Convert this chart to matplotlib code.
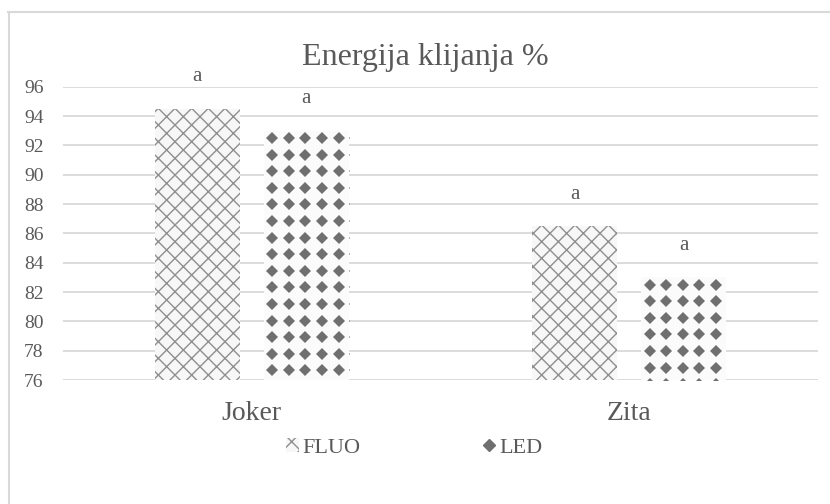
import matplotlib
matplotlib.use('Agg')
import matplotlib.pyplot as plt
import numpy as np
from matplotlib.patches import Patch
from matplotlib.lines import Line2D

# data
categories = ['Joker', 'Zita']
series_names = ['FLUO', 'LED']
fluo = [94.5, 86.5]
led = [93.0, 83.0]
labels_fluo = ['a', 'a']
labels_led = ['a', 'a']
y_ticks = [76, 78, 80, 82, 84, 86, 88, 90, 92, 94, 96]

TXT = '#595959'
GRID = '#d9d9d9'
HATCH = '#8f8f8f'
plt.rcParams['font.family'] = ['Liberation Serif', 'DejaVu Serif']
plt.rcParams['hatch.linewidth'] = 1.0

fig = plt.figure(figsize=(8.3, 5.04), dpi=100)
W, H = 830, 504
ax = fig.add_axes([63 / W, 1 - 380 / H, (818 - 63) / W, (380 - 86.7) / H])

x = np.arange(len(categories))
bw = 0.225
off = 0.1445

b1 = ax.bar(x - off, [v - y_ticks[0] for v in fluo], bw, bottom=y_ticks[0],
            color='#f7f7f7', hatch='xx', edgecolor=HATCH, linewidth=0, zorder=2)
b2 = ax.bar(x + off, [v - y_ticks[0] for v in led], bw, bottom=y_ticks[0],
            color='#fbfbfb', edgecolor='none', linewidth=0, zorder=2)

ax.set_ylim(y_ticks[0], y_ticks[-1])
ax.set_xlim(-0.5, len(categories) - 0.5)
ax.set_yticks(y_ticks)
ax.set_xticks(x)
ax.set_xticklabels(categories, fontsize=20, color=TXT)
ax.tick_params(axis='y', length=0, pad=14, labelsize=14, labelcolor=TXT)
ax.tick_params(axis='x', length=0, pad=15)
ax.grid(axis='y', color=GRID, linewidth=1.3, zorder=0)
ax.set_axisbelow(True)
for s in ax.spines.values():
    s.set_visible(False)

# diamond fill pattern for LED bars, clipped to each bar
fig.canvas.draw()
to_px = ax.transData
step = 16.6
for rect in b2:
    x0, y0 = to_px.transform((rect.get_x(), rect.get_y()))
    x1, y1 = to_px.transform((rect.get_x() + rect.get_width(), rect.get_y() + rect.get_height()))
    xs = np.arange(x0 + step / 2, x1 + step, step)
    ys = np.arange(y1 - step / 2 + 1, y0 - step, -step)
    gx, gy = np.meshgrid(xs, ys)
    pts = to_px.inverted().transform(np.column_stack([gx.ravel(), gy.ravel()]))
    ln, = ax.plot(pts[:, 0], pts[:, 1], linestyle='none', marker='D', markersize=6.3,
                  color='#6f6f6f', markeredgewidth=0, zorder=3)
    ln.set_clip_path(rect)

# significance letters
for rects, labs in ((b1, labels_fluo), (b2, labels_led)):
    for r, lab in zip(rects, labs):
        ax.annotate(lab, (r.get_x() + r.get_width() / 2, r.get_y() + r.get_height()),
                    xytext=(0, 16), textcoords='offset points', ha='center', va='bottom',
                    fontsize=15, color=TXT, annotation_clip=False)

fig.text(425 / W, 1 - 57 / H, 'Energija klijanja %', ha='center', va='center',
         fontsize=23, color=TXT)

handles = [Patch(facecolor='#f7f7f7', hatch='xx', edgecolor=HATCH, linewidth=0),
           Line2D([], [], linestyle='none', marker='D', markersize=6, color='#6f6f6f')]
fig.legend(handles, series_names, loc='center', bbox_to_anchor=(414 / W, 1 - 448 / H),
           ncol=2, frameon=False, fontsize=16, labelcolor=TXT, handlelength=0.6,
           handleheight=0.6, handletextpad=0.15, columnspacing=5.5)

# chart outline (top and left edges visible)
fig.add_artist(Line2D([8 / W, 1], [1 - 12 / H, 1 - 12 / H], transform=fig.transFigure,
                      color=GRID, linewidth=1.5))
fig.add_artist(Line2D([8.5 / W, 8.5 / W], [0, 1 - 12 / H], transform=fig.transFigure,
                      color=GRID, linewidth=1.5))

fig.savefig('out.png', dpi=100, facecolor='white')
